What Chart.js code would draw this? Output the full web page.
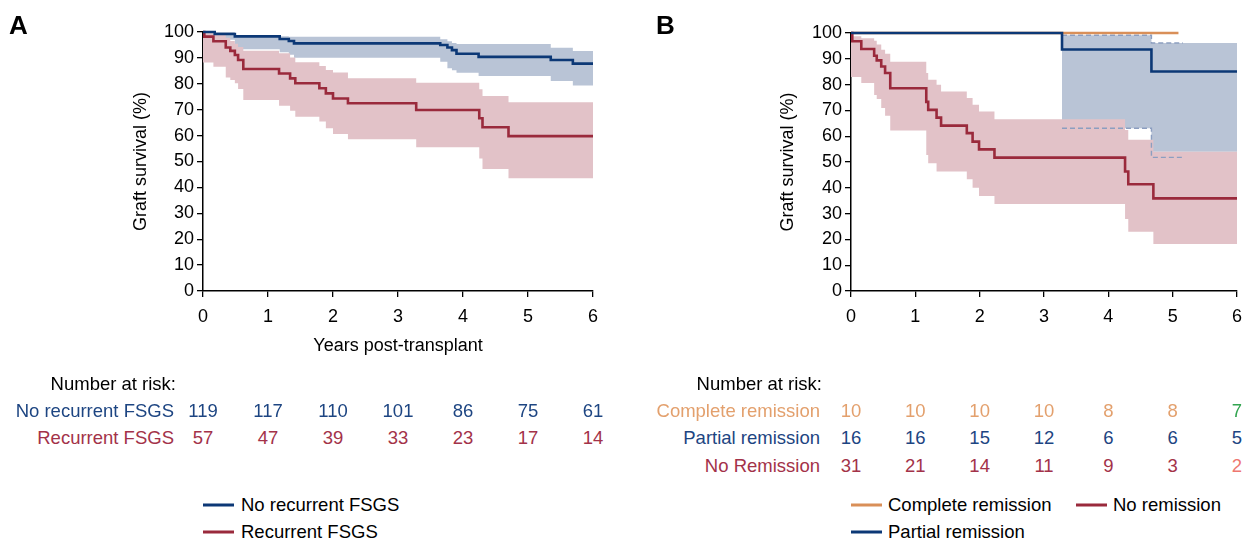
<!DOCTYPE html>
<html lang="en">
<head>
<meta charset="UTF-8">
<title>Graft survival - FSGS recurrence and remission</title>
<script src="https://cdn.jsdelivr.net/npm/chart.js"></script>
<style>
  body { margin: 0; background: #fff; font-family: "Liberation Sans", Arial, sans-serif; color: #000; }
  #figure { position: relative; width: 1245px; height: 542px; overflow: hidden; }
  canvas { position: absolute; top: 0; }
  .txt { position: absolute; font-size: 18.5px; line-height: 22px; white-space: nowrap; transform: translateY(-50%); }
  .c { transform: translate(-50%, -50%); }
  .r { transform: translate(-100%, -50%); }
  .letter { position: absolute; top: 12px; font-weight: bold; font-size: 26px; line-height: 26px; }
  .swatch { position: absolute; width: 31px; height: 3px; transform: translateY(-50%); }
</style>
</head>
<body>
<div id="figure">
  <canvas id="chartA" width="622" height="380" style="left:0"></canvas>
  <canvas id="chartB" width="623" height="380" style="left:622px"></canvas>
</div>
<script>
// ---- data: panel A ----
const yearTicks = [0, 1, 2, 3, 4, 5, 6];

const tNoRec = [0, 0.18, 0.49, 1.18, 1.32, 1.40, 3.65, 3.76, 3.83, 3.90, 4.24, 5.35, 5.69, 6];
const sNoRec = [100, 99.2, 98.3, 97.3, 96.5, 95.6, 95.0, 94.0, 93.0, 91.6, 90.4, 89.2, 87.8, 87.8];
const uNoRec = [100, 100, 98.8, 98.4, 98.2, 98.2, 97.2, 96.4, 95.8, 95.4, 95.4, 93.9, 92.7, 92.7];
const lNoRec = [100, 97.0, 93.3, 92.2, 91.2, 90.1, 88.5, 86.0, 85.2, 84.3, 83.0, 81.1, 79.3, 79.3];

const tRec = [0, 0.02, 0.16, 0.35, 0.42, 0.49, 0.54, 0.62, 1.17, 1.34, 1.42, 1.79, 1.89, 2.00, 2.23, 3.28, 4.25, 4.30, 4.70, 6];
const sRec = [100, 98.2, 96.4, 94.0, 92.7, 91.1, 89.2, 85.7, 84.0, 82.1, 80.2, 78.3, 76.3, 74.3, 72.5, 69.9, 66.7, 63.2, 59.8, 59.8];
const uRec = [100, 99.5, 99.0, 97.8, 96.5, 95.5, 94.2, 92.8, 91.8, 90.2, 88.3, 86.9, 85.3, 84.4, 82.1, 80.4, 77.9, 75.3, 72.9, 72.9];
const lRec = [88.2, 88.2, 86.6, 82.4, 81.5, 80.2, 78.0, 73.7, 71.5, 69.6, 67.3, 65.4, 62.8, 60.6, 58.6, 55.5, 51.2, 47.1, 43.5, 43.5];

const riskLabelsA = ['No recurrent FSGS', 'Recurrent FSGS'];
const riskNoRec = [119, 117, 110, 101, 86, 75, 61];
const riskRec = [57, 47, 39, 33, 23, 17, 14];

// ---- data: panel B ----
const tCR = [0, 5.09];
const sCR = [100, 100];

const tPR = [0, 3.28, 4.67, 6];
const sPR = [100, 93.6, 85.1, 85.1];
const uPR = [100, 99.1, 96.1, 96.1];
const lPR = [100, 63.1, 54.0, 54.0];
const tPRci = [3.28, 4.67, 5.16];
const uPRci = [99.1, 96.1, 96.1];
const lPRci = [63.1, 51.8, 51.8];

const tNoR = [0, 0.02, 0.16, 0.36, 0.40, 0.47, 0.53, 0.61, 1.17, 1.20, 1.33, 1.40, 1.80, 1.89, 1.99, 2.23, 4.26, 4.31, 4.70, 6];
const sNoR = [100, 96.8, 93.8, 91.2, 89.4, 87.0, 84.5, 78.6, 73.3, 70.2, 67.2, 64.1, 61.2, 57.9, 54.9, 51.7, 46.3, 41.4, 35.9, 35.9];
const uNoR = [98.7, 98.7, 98.0, 97.0, 95.5, 93.5, 92.0, 88.9, 84.5, 81.9, 79.9, 77.3, 74.8, 72.2, 69.6, 66.6, 62.4, 58.6, 54.0, 54.0];
const lNoR = [82.9, 82.9, 80.6, 76.0, 74.4, 70.9, 67.9, 62.2, 52.7, 49.5, 46.3, 46.3, 43.3, 40.0, 36.8, 33.7, 27.9, 23.0, 18.2, 18.2];

const riskLabelsB = ['Complete remission', 'Partial remission', 'No Remission'];
const riskCR = [10, 10, 10, 10, 8, 8, 7];
const riskPR = [16, 16, 15, 12, 6, 6, 5];
const riskNoR = [31, 21, 14, 11, 9, 3, 2];

// ---- styles ----
const NAVY = '#0c3876';
const RED = '#9a2a3c';
const ORANGE = '#d98f58';
const BLUE_BAND = '#b9c4d6';
const PINK_BAND = '#e2c2c8';
const CI_DASH = '#8c9ec0';
const TXT_BLUE = '#1d4582';
const TXT_RED = '#a33249';
const TXT_ORANGE = '#e3a06d';
const FONT = '"Liberation Sans", Arial, sans-serif';
const NONE = 'rgba(0,0,0,0)';

function pts(t, v) {
    return t.map((x, i) => ({ x: x, y: v[i] }));
}

// lines sit on the 100% edge, so let them spill a little past the chart area
function kmLine(label, t, v, color, order) {
    return { label: label, data: pts(t, v), borderColor: color, borderWidth: 2.6, stepped: 'before',
             pointRadius: 0, fill: false, order: order, clip: 4 };
}

function band(t, upper, lower, color, order) {
    return [
        { label: 'ci-upper', data: pts(t, upper), borderColor: NONE, borderWidth: 0, backgroundColor: color,
          stepped: 'before', pointRadius: 0, fill: '+1', order: order },
        { label: 'ci-lower', data: pts(t, lower), borderColor: NONE, borderWidth: 0,
          stepped: 'before', pointRadius: 0, fill: false, order: order }
    ];
}

function dashed(t, v, order) {
    return { label: 'ci-dash', data: pts(t, v), borderColor: CI_DASH, borderWidth: 1.4, borderDash: [5, 3],
             stepped: 'before', pointRadius: 0, fill: false, order: order, clip: 4 };
}

function scales(yWidth, xHeight, xTitle) {
    const f = { family: FONT, size: 18 };
    const grid = { drawOnChartArea: false, drawTicks: true, tickLength: 6, color: '#000', lineWidth: 1.3 };
    const border = { color: '#000', width: 1.5 };
    return {
        x: {
            type: 'linear', min: 0, max: 6,
            ticks: { stepSize: 1, color: '#000', font: f, padding: 9, maxRotation: 0, autoSkip: false },
            grid: grid, border: border,
            title: { display: !!xTitle, text: xTitle, color: '#000', font: f },
            afterFit: s => { s.height = xHeight; s.paddingRight = 5; s.paddingLeft = 5; }
        },
        y: {
            min: 0, max: 100,
            ticks: { stepSize: 10, color: '#000', font: f, padding: 3, autoSkip: false },
            grid: grid, border: border,
            title: { display: true, text: 'Graft survival (%)', color: '#000', font: f },
            afterFit: s => { s.width = yWidth; }
        }
    };
}

function makeChart(id, datasets, padding, yWidth, xHeight, xTitle) {
    return new Chart(document.getElementById(id), {
        type: 'line',
        data: { datasets: datasets },
        options: {
            responsive: false,
            animation: false,
            devicePixelRatio: 1,
            layout: { padding: padding },
            plugins: { legend: { display: false }, tooltip: { enabled: false } },
            scales: scales(yWidth, xHeight, xTitle)
        }
    });
}

const chartA = makeChart('chartA', [
    kmLine('No recurrent FSGS', tNoRec, sNoRec, NAVY, 1),
    kmLine('Recurrent FSGS', tRec, sRec, RED, 2),
    ...band(tRec, uRec, lRec, PINK_BAND, 3),
    ...band(tNoRec, uNoRec, lNoRec, BLUE_BAND, 4)
], { left: 126, top: 32, right: 29, bottom: 19 }, 77, 70, 'Years post-transplant');

const chartB = makeChart('chartB', [
    kmLine('Partial remission', tPR, sPR, NAVY, 1),
    kmLine('No remission', tNoR, sNoR, RED, 2),
    kmLine('Complete remission', tCR, sCR, ORANGE, 3),
    dashed(tPRci, uPRci, 4),
    dashed(tPRci, lPRci, 4),
    ...band(tNoR, uNoR, lNoR, PINK_BAND, 5),
    ...band(tPR, uPR, lPR, BLUE_BAND, 6)
], { left: 151, top: 33, right: 8, bottom: 49 }, 78, 40, '');

// ---- text: letters, number-at-risk tables, legends ----
const fig = document.getElementById('figure');

function addText(text, x, y, cls, color) {
    const d = document.createElement('div');
    d.className = cls;
    d.textContent = text;
    d.style.left = x + 'px';
    d.style.top = y + 'px';
    if (color) d.style.color = color;
    fig.appendChild(d);
    return d;
}

function addSwatch(x, y, color) {
    const s = document.createElement('div');
    s.className = 'swatch';
    s.style.left = x + 'px';
    s.style.top = y + 'px';
    s.style.background = color;
    fig.appendChild(s);
}

function riskTable(chart, offsetX, gap, labels, rows, colors, lastColors) {
    const labelX = offsetX + chart.chartArea.left - gap;
    addText('Number at risk:', labelX + 2, 384, 'txt r');
    rows.forEach((row, r) => {
        const y = 411 + r * 27.4;
        addText(labels[r], labelX, y, 'txt r', colors[r]);
        row.forEach((n, i) => {
            const x = offsetX + chart.scales.x.getPixelForValue(yearTicks[i]);
            const col = (i === row.length - 1 && lastColors[r]) ? lastColors[r] : colors[r];
            addText(String(n), x, y, 'txt c', col);
        });
    });
}

addText('A', 9, 12, 'letter');
addText('B', 656, 12, 'letter');

riskTable(chartA, 0, 29, riskLabelsA, [riskNoRec, riskRec], [TXT_BLUE, TXT_RED], [null, null]);
riskTable(chartB, 622, 31, riskLabelsB, [riskCR, riskPR, riskNoR], [TXT_ORANGE, TXT_BLUE, TXT_RED],
          ['#33a551', null, '#ee7770']);

// legends
const lxA = chartA.chartArea.left;
addSwatch(lxA, 505, NAVY);
addText('No recurrent FSGS', lxA + 38, 505, 'txt');
addSwatch(lxA, 532, RED);
addText('Recurrent FSGS', lxA + 38, 532, 'txt');

const lxB = 622 + chartB.chartArea.left;
addSwatch(lxB, 505, ORANGE);
addText('Complete remission', lxB + 37, 505, 'txt');
addSwatch(lxB + 225, 505, RED);
addText('No remission', lxB + 262, 505, 'txt');
addSwatch(lxB, 532, NAVY);
addText('Partial remission', lxB + 37, 532, 'txt');
</script>
</body>
</html>
